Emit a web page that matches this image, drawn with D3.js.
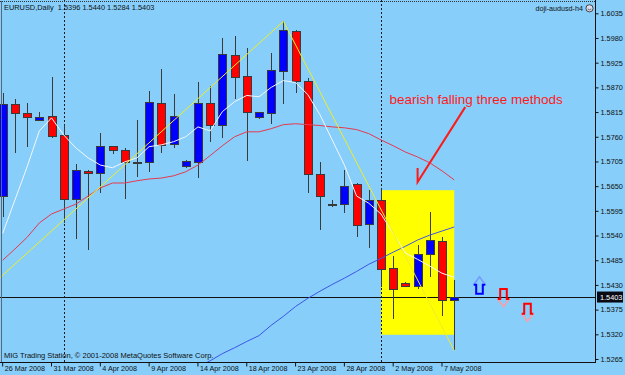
<!DOCTYPE html>
<html>
<head>
<meta charset="utf-8">
<script src="https://cdn.jsdelivr.net/npm/d3@7"></script>
<style>
html, body { margin: 0; padding: 0; background: #87cefa; }
svg { display: block; font-family: "Liberation Sans", Arial, sans-serif; }
</style>
</head>
<body>
<svg width="625" height="375"></svg>
<script>
// EURUSD daily bars, the feed includes the short Sunday bars
var barDates = ["26 Mar","27 Mar","28 Mar","30 Mar","31 Mar","1 Apr","2 Apr","3 Apr","4 Apr","6 Apr",
	"7 Apr","8 Apr","9 Apr","10 Apr","11 Apr","13 Apr","14 Apr","15 Apr","16 Apr","17 Apr",
	"18 Apr","20 Apr","21 Apr","22 Apr","23 Apr","24 Apr","25 Apr","27 Apr","28 Apr","29 Apr",
	"30 Apr","1 May","2 May","4 May","5 May","6 May","7 May","8 May"];
var opens  = [1.5626,1.5832,1.5811,1.5796,1.5805,1.5762,1.5621,1.5682,1.5679,1.5738,1.5729,1.5703,1.5702,1.5834,1.5742,1.5693,1.5702,1.5834,1.5785,1.5941,1.5894,1.5802,1.5811,1.5905,1.5995,1.5883,1.5677,1.5610,1.5610,1.5653,1.5565,1.5617,1.5467,1.5434,1.5427,1.5498,1.5527,1.5396];
var highs  = [1.5858,1.5845,1.5836,1.5816,1.5894,1.5787,1.5700,1.5686,1.5769,1.5740,1.5735,1.5798,1.5863,1.5912,1.5856,1.5709,1.5883,1.5872,1.5979,1.5984,1.5957,1.5816,1.5946,1.6017,1.5997,1.5890,1.5704,1.5619,1.5686,1.5657,1.5641,1.5644,1.5494,1.5436,1.5519,1.5592,1.5536,1.5440];
var lows   = [1.5581,1.5724,1.5738,1.5794,1.5758,1.5568,1.5532,1.5507,1.5635,1.5722,1.5621,1.5670,1.5682,1.5724,1.5735,1.5691,1.5668,1.5749,1.5758,1.5845,1.5706,1.5800,1.5789,1.5832,1.5858,1.5635,1.5552,1.5603,1.5590,1.5536,1.5512,1.5425,1.5355,1.5425,1.5420,1.5447,1.5360,1.5284];
var closes = [1.5832,1.5811,1.5802,1.5802,1.5760,1.5621,1.5684,1.5678,1.5738,1.5729,1.5702,1.5702,1.5836,1.5740,1.5805,1.5704,1.5834,1.5785,1.5943,1.5892,1.5814,1.5814,1.5908,1.5997,1.5883,1.5677,1.5628,1.5610,1.5650,1.5563,1.5617,1.5465,1.5420,1.5427,1.5498,1.5530,1.5396,1.5403];

// moving averages
var maWhite = [1.5545,1.5619,1.5693,1.5773,1.5802,1.5764,1.5735,1.5713,1.5697,1.5691,1.5704,1.5713,1.5738,1.5742,1.5749,1.5760,1.5782,1.5773,1.5816,1.5838,1.5852,1.5849,1.5870,1.5885,1.5881,1.5854,1.5809,1.5753,1.5697,1.5628,1.5612,1.5588,1.5545,1.5501,1.5487,1.5472,1.5456,1.5447];
var maRed   = [1.5485,1.5510,1.5536,1.5568,1.5588,1.5599,1.5610,1.5628,1.5646,1.5657,1.5657,1.5662,1.5666,1.5668,1.5673,1.5682,1.5697,1.5718,1.5740,1.5760,1.5771,1.5771,1.5778,1.5787,1.5789,1.5787,1.5785,1.5782,1.5780,1.5776,1.5767,1.5753,1.5740,1.5726,1.5715,1.5702,1.5684,1.5664];
var maBlue  = [null,null,null,null,null,null,null,null,null,null,null,null,null,null,null,null,1.5248,1.5261,1.5277,1.5290,1.5304,1.5317,1.5340,1.5360,1.5382,1.5400,1.5416,1.5431,1.5445,1.5460,1.5476,1.5489,1.5503,1.5516,1.5530,1.5541,1.5550,1.5559];

// zigzag turning points (bar index, price)
var zigBars   = [-3, 23, 37];
var zigPrices = [1.5378, 1.6017, 1.5284];

// rectangle object on the pattern
var boxBars   = [31, 37];
var boxPrices = [1.5641, 1.5319];

// signal arrows
var arrowBars   = [39, 41, 43];
var arrowPrices = [1.5448, 1.5421, 1.5388];
var arrowDirs   = ["up", "down", "down"];

// note text and its pointer
var noteText = "bearish falling three methods";
var noteBar = 31.7, notePrice = 1.5833;
var pointerBars = [37.9, 34], pointerPrices = [1.5826, 1.5659];

var symbol = "EURUSD,Daily";
var bidPrice = 1.5403;

var yTicks = [1.6035,1.5980,1.5925,1.5870,1.5815,1.5760,1.5705,1.5650,1.5595,1.5540,1.5485,1.5430,1.5375,1.5320,1.5265];
var xTicks = [0, 4, 8, 12, 16, 20, 24, 28, 32, 36];
var xTickLabels = ["26 Mar 2008","31 Mar 2008","4 Apr 2008","9 Apr 2008","14 Apr 2008","18 Apr 2008","23 Apr 2008","28 Apr 2008","2 May 2008","7 May 2008"];

var plotW = 595, plotH = 362;
var svg = d3.select("svg");

var x = d3.scaleLinear().domain([0, 37]).range([2.7, 454.2]);
var y = d3.scaleLinear().domain([1.5265, 1.6035]).range([359, 13.3]);

svg.append("rect").attr("width", 625).attr("height", 375).attr("fill", "#87cefa");

svg.append("clipPath").attr("id", "plot")
	.append("rect").attr("x", 0).attr("y", 0).attr("width", plotW).attr("height", plotH);

var g = svg.append("g").attr("clip-path", "url(#plot)");

// yellow box behind everything
g.append("rect")
	.attr("x", x(boxBars[0]))
	.attr("y", y(boxPrices[0]))
	.attr("width", x(boxBars[1]) - x(boxBars[0]))
	.attr("height", y(boxPrices[1]) - y(boxPrices[0]))
	.attr("fill", "#ffff00");

// month separators
var sepBars = [];
barDates.forEach(function(d, i) {
	if (i > 0 && d.split(" ")[1] !== barDates[i - 1].split(" ")[1]) sepBars.push(i);
});
g.selectAll("line.sep")
	.data(sepBars)
	.enter()
	.append("line")
	.attr("class", "sep")
	.attr("x1", function(d) {return Math.round(x(d)) + 0.5;})
	.attr("x2", function(d) {return Math.round(x(d)) + 0.5;})
	.attr("y1", 0)
	.attr("y2", plotH)
	.attr("stroke", "#1a1a1a")
	.attr("stroke-dasharray", "2,2");

// bid line
g.append("line")
	.attr("x1", 0).attr("x2", plotW)
	.attr("y1", Math.round(y(bidPrice)) + 0.5)
	.attr("y2", Math.round(y(bidPrice)) + 0.5)
	.attr("stroke", "#111");

// candles
var bars = opens.map(function(o, i) {
	return {i: i, o: o, h: highs[i], l: lows[i], c: closes[i]};
});
var candle = g.selectAll("g.candle")
	.data(bars)
	.enter()
	.append("g")
	.attr("class", "candle")
	.style("shape-rendering", "crispEdges");

candle.append("line")
	.attr("x1", function(d) {return Math.round(x(d.i)) + 0.5;})
	.attr("x2", function(d) {return Math.round(x(d.i)) + 0.5;})
	.attr("y1", function(d) {return y(d.h);})
	.attr("y2", function(d) {return y(d.l);})
	.attr("stroke", "#3a3a3a");

candle.append("rect")
	.attr("x", function(d) {return Math.round(x(d.i)) - 3.5;})
	.attr("width", 8)
	.attr("y", function(d) {return y(Math.max(d.o, d.c));})
	.attr("height", function(d) {return Math.max(1, Math.abs(y(d.o) - y(d.c)));})
	.attr("fill", function(d) {
		if (Math.abs(d.o - d.c) < 0.00015) return "#3a3a3a";
		return d.c > d.o ? "#0000ff" : "#ff0000";
	})
	.attr("stroke", "#3a3a3a");

// indicator lines on top of the bars
var line = d3.line()
	.defined(function(d) {return d != null;})
	.x(function(d, i) {return x(i);})
	.y(function(d) {return y(d);});

g.append("path").datum(maRed).attr("d", line)
	.attr("fill", "none").attr("stroke", "#e6394f").attr("stroke-width", 1);
g.append("path").datum(maBlue).attr("d", line)
	.attr("fill", "none").attr("stroke", "#3d55e8").attr("stroke-width", 1);
g.append("path").datum(maWhite).attr("d", line)
	.attr("fill", "none").attr("stroke", "#f4f8ff").attr("stroke-width", 1);

var zig = zigBars.map(function(b, i) {return [x(b), y(zigPrices[i])];});
g.append("path").datum(zig).attr("d", d3.line())
	.attr("fill", "none").attr("stroke", "#eeee22").attr("stroke-width", 1);

// arrows
arrowBars.forEach(function(b, i) {
	var cx = Math.round(x(b)) + 0.5, py = y(arrowPrices[i]);
	if (arrowDirs[i] === "up") {
		g.append("path")
			.attr("d", "M" + (cx - 5.8) + "," + (py + 8) + "L" + cx + "," + py + "L" + (cx + 5.8) + "," + (py + 8))
			.attr("fill", "none").attr("stroke", "#6f9cff").attr("stroke-width", 1.6);
		g.append("path")
			.attr("d", "M" + (cx - 5.8) + "," + (py + 8) + "H" + (cx - 3.3) + "V" + (py + 17) + "H" + (cx + 3.3) + "V" + (py + 8) + "H" + (cx + 5.8))
			.attr("fill", "none").attr("stroke", "#0000ff").attr("stroke-width", 2);
	} else {
		g.append("path")
			.attr("d", "M" + (cx - 5.8) + "," + (py + 10) + "L" + cx + "," + (py + 17.5) + "L" + (cx + 5.8) + "," + (py + 10))
			.attr("fill", "none").attr("stroke", "#ff9ca4").attr("stroke-width", 1.6);
		g.append("path")
			.attr("d", "M" + (cx - 5.8) + "," + (py + 10) + "H" + (cx - 3.3) + "V" + py + "H" + (cx + 3.3) + "V" + (py + 10) + "H" + (cx + 5.8))
			.attr("fill", "none").attr("stroke", "#ff0000").attr("stroke-width", 2);
	}
});

// annotation
g.append("text")
	.attr("x", x(noteBar)).attr("y", y(notePrice))
	.attr("fill", "#ff1a1a")
	.style("font-size", "13.5px")
	.text(noteText);
var p0 = [x(pointerBars[0]), y(pointerPrices[0])], p1 = [x(pointerBars[1]), y(pointerPrices[1])];
g.append("path")
	.attr("d", "M" + p0[0] + "," + p0[1] + "L" + p1[0] + "," + p1[1] + "L" + p1[0] + "," + (p1[1] - 14))
	.attr("fill", "none").attr("stroke", "#ff1a1a").attr("stroke-width", 2);

// labels in the plot
var last = bars[bars.length - 1];
svg.append("text")
	.attr("x", 4).attr("y", 9.5)
	.attr("fill", "#111").style("font-size", "7.4px")
	.text(symbol + "  " + [last.o, last.h, last.l, last.c].map(d3.format(".4f")).join(" "))
	.attr("xml:space", "preserve");
svg.append("text")
	.attr("x", 4).attr("y", 358)
	.attr("fill", "#111").style("font-size", "7.5px")
	.text("MIG Trading Station, \u00a9 2001-2008 MetaQuotes Software Corp.");
svg.append("text")
	.attr("x", 583).attr("y", 10.5).attr("text-anchor", "end")
	.attr("fill", "#111").style("font-size", "7.2px")
	.text("doji-audusd-h4");
var face = svg.append("g").attr("transform", "translate(589.5,8.3)");
face.append("circle").attr("r", 3.6).attr("fill", "#dde").attr("stroke", "#333").attr("stroke-width", 0.9);
face.append("path").attr("d", "M-1.8,0.6 Q0,2.6 1.8,0.6").attr("fill", "none").attr("stroke", "#333").attr("stroke-width", 0.7);

// frame
svg.append("line").attr("x1", 0).attr("x2", plotW).attr("y1", 1.5).attr("y2", 1.5)
	.attr("stroke", "#333").attr("stroke-dasharray", "1,1");
svg.append("line").attr("x1", 1.5).attr("x2", 1.5).attr("y1", 1).attr("y2", plotH)
	.attr("stroke", "#56687a");

// right price axis
var yAxis = d3.axisRight(y).tickValues(yTicks).tickFormat(d3.format(".4f")).tickSize(3).tickPadding(2);
var ya = svg.append("g").attr("transform", "translate(" + (plotW + 0.5) + ",0)").call(yAxis);
ya.select(".domain").remove();
ya.selectAll("line").attr("stroke", "#111");
ya.selectAll("text").attr("fill", "#111").style("font-size", "7.3px").style("font-family", "Liberation Sans, Arial, sans-serif");
svg.append("line").attr("x1", plotW + 0.5).attr("x2", plotW + 0.5).attr("y1", 0).attr("y2", plotH + 1)
	.attr("stroke", "#111");

// current price tag
svg.append("rect")
	.attr("x", plotW + 2).attr("y", y(bidPrice) - 5.5)
	.attr("width", 26).attr("height", 11)
	.attr("fill", "#0a0a14");
svg.append("text")
	.attr("x", plotW + 5).attr("y", y(bidPrice) + 2.6)
	.attr("fill", "#fff").style("font-size", "7.3px")
	.text(d3.format(".4f")(bidPrice));

// bottom date axis
var xAxis = d3.axisBottom(x).tickValues(xTicks).tickFormat(function(d, i) {return xTickLabels[i];}).tickSize(4);
var xa = svg.append("g").attr("transform", "translate(0," + (plotH + 0.5) + ")").call(xAxis);
xa.select(".domain").remove();
xa.selectAll("line").attr("stroke", "#111").attr("transform", "translate(-0.5,0)");
xa.selectAll("text")
	.attr("text-anchor", "start").attr("x", 1.5).attr("y", 8.3).attr("dy", 0)
	.attr("fill", "#111").style("font-size", "7.2px").style("font-family", "Liberation Sans, Arial, sans-serif");
svg.append("line").attr("x1", 0).attr("x2", plotW + 1).attr("y1", plotH + 0.5).attr("y2", plotH + 0.5)
	.attr("stroke", "#111");
</script>
</body>
</html>
